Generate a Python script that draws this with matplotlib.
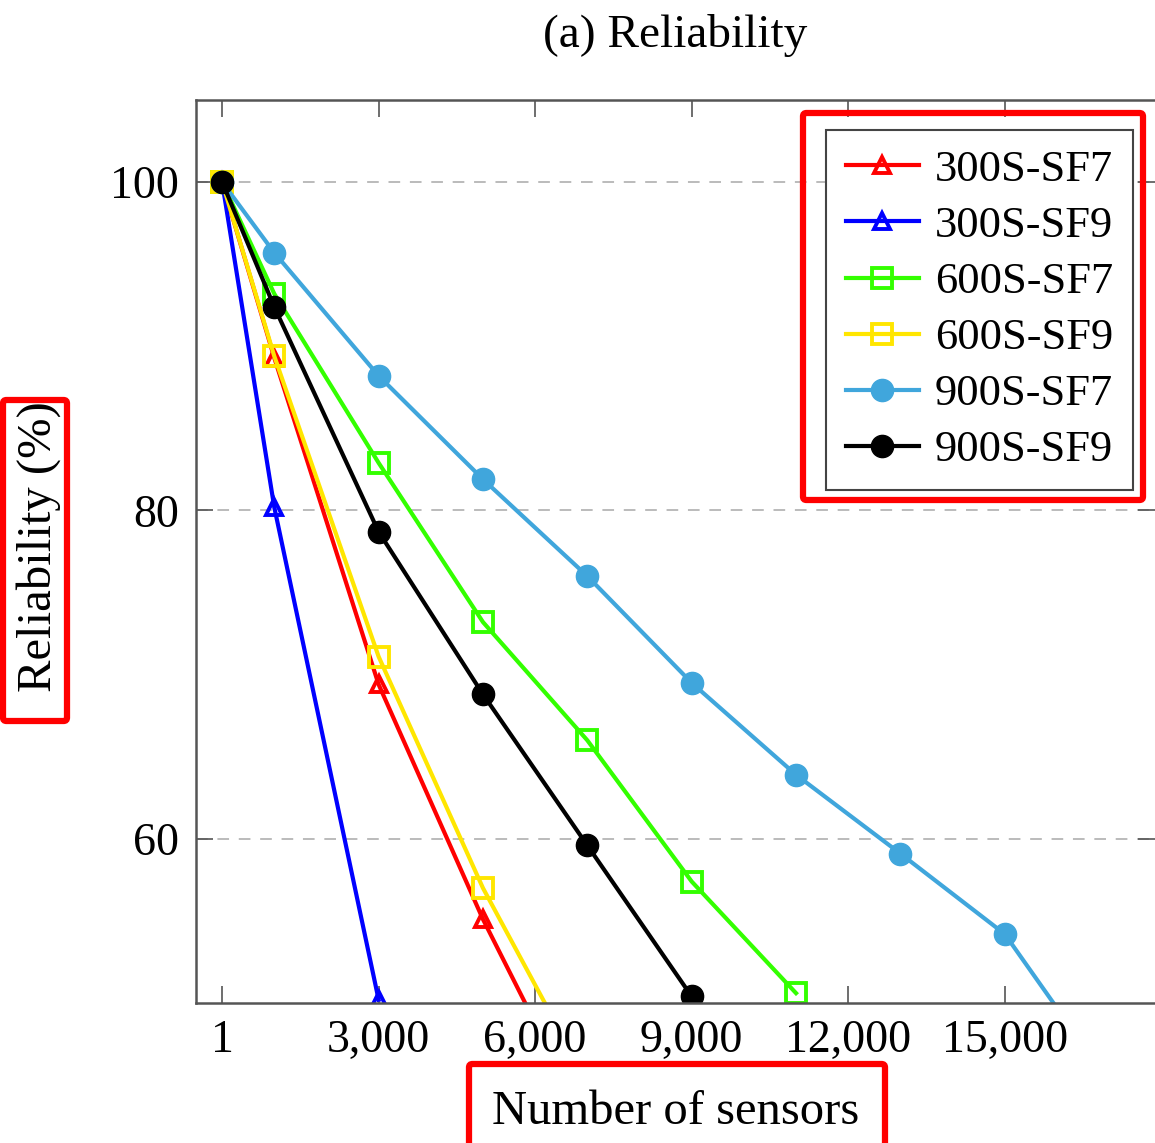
import numpy as np
import matplotlib.pyplot as plt
from matplotlib.patches import FancyBboxPatch
from matplotlib.ticker import FuncFormatter

plt.rcParams['font.family'] = ['Liberation Serif', 'DejaVu Serif']

# reliability (%) vs number of sensors
x_300_sf7 = [1, 1000, 3000, 5000, 7000]
y_300_sf7 = [100, 89.3, 69.4, 55.1, 42.5]
x_300_sf9 = [1, 1000, 3000]
y_300_sf9 = [100, 80.2, 50.2]
x_600_sf7 = [1, 1000, 3000, 5000, 7000, 9000, 11000]
y_600_sf7 = [100, 93.2, 82.9, 73.2, 66.0, 57.4, 50.6]
x_600_sf9 = [1, 1000, 3000, 5000, 7000]
y_600_sf9 = [100, 89.4, 71.1, 57.0, 45.2]
x_900_sf7 = [1, 1000, 3000, 5000, 7000, 9000, 11000, 13000, 15000, 17000]
y_900_sf7 = [100, 95.7, 88.2, 81.9, 76.0, 69.5, 63.9, 59.1, 54.2, 45.2]
x_900_sf9 = [1, 1000, 3000, 5000, 7000, 9000]
y_900_sf9 = [100, 92.4, 78.7, 68.8, 59.6, 50.4]

xticks = [1, 3000, 6000, 9000, 12000, 15000]
yticks = [60, 80, 100]

fig = plt.figure(figsize=(11.55, 11.43), dpi=100)
ax = fig.add_axes([196/1155, 140/1143, 959/1155, 903/1143])

lw = 3.0
ax.plot(x_300_sf7, y_300_sf7, color='#ff0000', lw=lw, marker='^', ms=12,
        mfc='none', mew=2.8, label='300S-SF7')
ax.plot(x_300_sf9, y_300_sf9, color='#0000ff', lw=lw, marker='^', ms=12,
        mfc='none', mew=2.8, label='300S-SF9')
ax.plot(x_600_sf7, y_600_sf7, color='#33ff00', lw=lw, marker='s', ms=14,
        mfc='none', mew=2.8, label='600S-SF7')
ax.plot(x_600_sf9, y_600_sf9, color='#ffe600', lw=lw, marker='s', ms=14,
        mfc='none', mew=2.8, label='600S-SF9')
ax.plot(x_900_sf7, y_900_sf7, color='#40a6dc', lw=lw, marker='o', ms=16,
        label='900S-SF7')
ax.plot(x_900_sf9, y_900_sf9, color='black', lw=lw, marker='o', ms=16,
        label='900S-SF9')

ax.set_xlim(-500, 17880)
ax.set_ylim(50, 105)
ax.set_xticks(xticks)
ax.set_yticks(yticks)
ax.xaxis.set_major_formatter(FuncFormatter(lambda v, p: f'{int(v):,}'))
ax.tick_params(direction='in', length=12, width=1.2, colors='#555555',
               labelcolor='black', labelsize=33, top=True, right=True, pad=12)
ax.yaxis.grid(True, ls=(0, (6, 5)), color='#bbbbbb', lw=1.4)
ax.set_axisbelow(True)
for s in ax.spines.values():
    s.set_color('#555555')
    s.set_linewidth(1.8)
ax.spines['right'].set_visible(False)

ax.set_title('(a) Reliability', fontsize=34, pad=38)
ax.set_xlabel('Number of sensors', fontsize=35, labelpad=20)
ax.set_ylabel('Reliability (%)', fontsize=35)
ax.yaxis.set_label_coords(-0.141, 0.505)

leg = ax.legend(loc='upper right', bbox_to_anchor=(0.977, 0.967),
                borderaxespad=0, fontsize=32, fancybox=False,
                edgecolor='#444444', framealpha=1, handlelength=1.65,
                labelspacing=0.36, borderpad=0.45, handletextpad=0.35)
leg.get_frame().set_linewidth(1.5)

# red highlight boxes
boxes = [(803, 113, 340, 387), (3, 400, 64, 321), (469, 1064, 416, 85)]
for bx, by, bw, bh in boxes:
    fig.patches.append(FancyBboxPatch(
        (bx/1155, 1 - (by + bh)/1143), bw/1155, bh/1143,
        boxstyle='round,pad=0,rounding_size=0.003', transform=fig.transFigure,
        fill=False, edgecolor='#ff0000', lw=4.5, zorder=10))

fig.savefig('out.png', dpi=100)
